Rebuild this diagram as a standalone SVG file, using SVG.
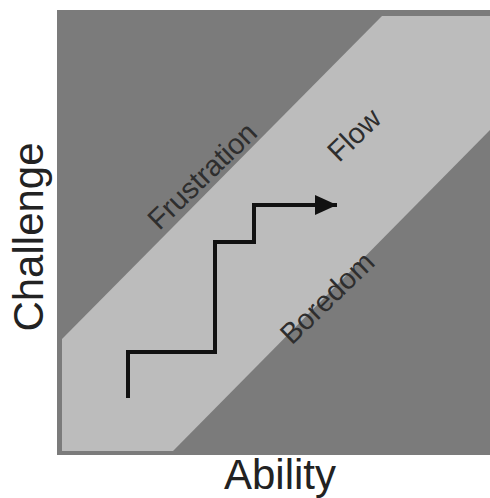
<svg xmlns="http://www.w3.org/2000/svg" width="490" height="498" viewBox="0 0 490 498">
<defs>
<style>
.lbl{font-family:"Liberation Sans",Arial,sans-serif;font-size:29px;fill:#2e2e2e;text-anchor:middle}
.axis{font-family:"Liberation Sans",Arial,sans-serif;font-size:42px;fill:#222;text-anchor:middle}
</style>
<marker id="ah" markerWidth="5.5" markerHeight="5" refX="5.5" refY="2.5" orient="auto" markerUnits="strokeWidth">
<path d="M0,0 L5.5,2.5 L0,5 Z" fill="#111"/>
</marker>
</defs>
<rect width="490" height="498" fill="#fff"/>
<g id="chart">
<rect x="57" y="10" width="433" height="445" fill="#7b7b7b"/>
<polygon points="62,339 382,16 490,16 490,130 173,451 62,451" fill="#bcbcbc"/>
</g>
<g id="labels">
<text class="lbl" transform="translate(209,183) rotate(-44)">Frustration</text>
<text class="lbl" transform="translate(361,142) rotate(-44)">Flow</text>
<text class="lbl" transform="translate(334,305) rotate(-44)">Boredom</text>
<text class="axis" transform="translate(43,237) rotate(-90)">Challenge</text>
<text class="axis" x="280" y="489">Ability</text>
</g>
<g id="connectors">
<path d="M128,398 V352 H215 V242 H254 V205 H337" fill="none" stroke="#111" stroke-width="4" marker-end="url(#ah)"/>
</g>
</svg>
